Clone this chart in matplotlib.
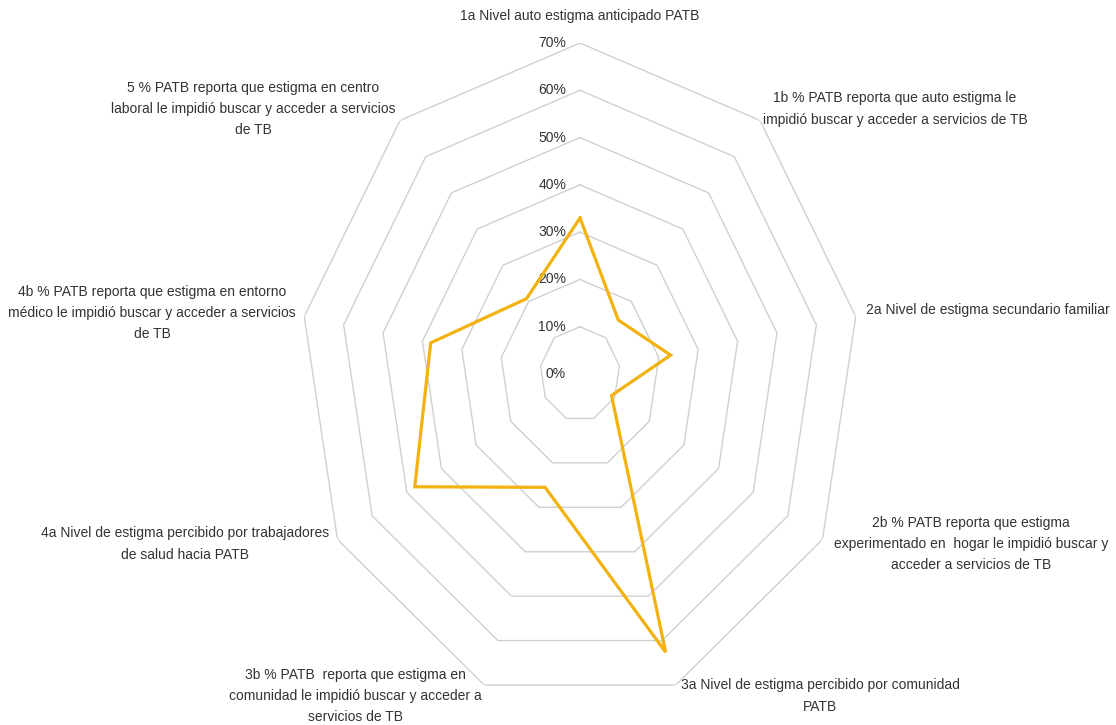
import numpy as np
import matplotlib
matplotlib.use("Agg")
from matplotlib import pyplot as plt

plt.rcParams['font.family'] = ['Liberation Sans', 'DejaVu Sans']

categories = [
    "1a Nivel auto estigma anticipado PATB",
    "1b % PATB reporta que auto estigma le\nimpidió buscar y acceder a servicios de TB",
    "2a Nivel de estigma secundario familiar",
    "2b % PATB reporta que estigma\nexperimentado en  hogar le impidió buscar y\nacceder a servicios de TB",
    "3a Nivel de estigma percibido por comunidad\nPATB",
    "3b % PATB  reporta que estigma en\ncomunidad le impidió buscar y acceder a\nservicios de TB",
    "4a Nivel de estigma percibido por trabajadores\nde salud hacia PATB",
    "4b % PATB reporta que estigma en entorno\nmédico le impidió buscar y acceder a servicios\nde TB",
    "5 % PATB reporta que estigma en centro\nlaboral le impidió buscar y acceder a servicios\nde TB",
]
values = [0.33, 0.149, 0.23, 0.091, 0.626, 0.255, 0.477, 0.379, 0.208]
levels = [0.0, 0.1, 0.2, 0.3, 0.4, 0.5, 0.6, 0.7]
level_labels = ["0%", "10%", "20%", "30%", "40%", "50%", "60%", "70%"]

# label anchor positions in pixels (x, y of centre) and alignment
label_pos = [
    (580, 16, 'center'),
    (895, 109, 'center'),
    (866, 310, 'left'),
    (971, 544, 'center'),
    (820, 696, 'center'),
    (355, 696, 'center'),
    (185, 544, 'center'),
    (152, 313, 'center'),
    (253, 109, 'center'),
]

W, H = 1116, 725
fig = plt.figure(figsize=(W / 100, H / 100), dpi=100)

# the chart is a bit narrower than it is tall
cx, cy, R, Rx = 580, 374, 331, 280
ax = fig.add_axes([(cx - Rx) / W, (H - cy - R) / H, 2 * Rx / W, 2 * R / H], projection='polar')
ax.set_aspect('auto')
ax.set_theta_offset(np.pi / 2)
ax.set_theta_direction(-1)
ax.set_ylim(0, 0.70)
ax.set_xticks([])
ax.set_yticks([])
ax.grid(False)
ax.spines['polar'].set_visible(False)
ax.patch.set_alpha(0)

n = len(categories)
theta = np.linspace(0, 2 * np.pi, n, endpoint=False)
theta_c = np.append(theta, theta[0])

for lv in levels[1:]:
    ax.plot(theta_c, [lv] * (n + 1), color='#d0d0d0', lw=1.0, zorder=1)

for lv, lab in zip(levels, level_labels):
    ax.annotate(lab, (0, lv), xytext=(-10, 0), textcoords='offset points',
                ha='right', va='center', fontsize=10, color='#333333')

vals = values + values[:1]
ax.plot(theta_c, vals, color='#F2B20F', lw=2.3, zorder=3, solid_joinstyle='miter')

for txt, (x, y, ha) in zip(categories, label_pos):
    fig.text(x / W, 1 - y / H, txt, ha=ha, va='center', fontsize=10,
             color='#333333', linespacing=1.65, multialignment='center')

fig.savefig('out.png', dpi=100)
